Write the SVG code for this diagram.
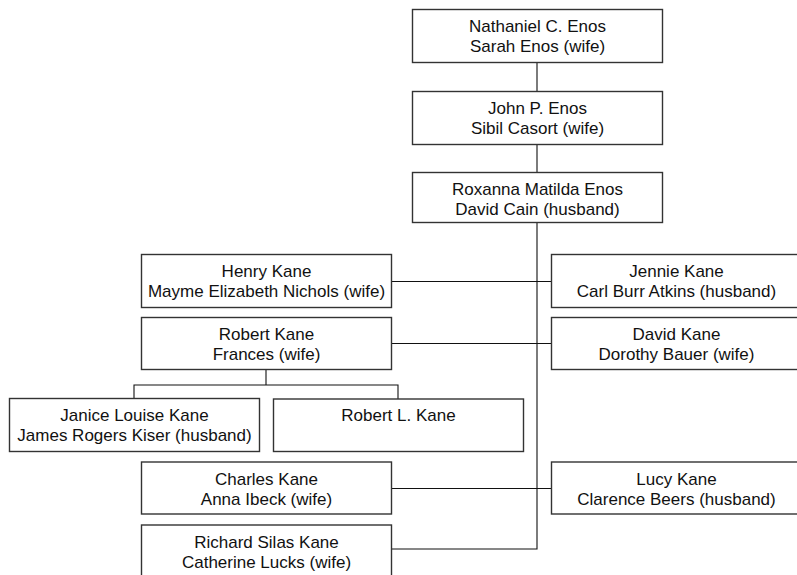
<svg xmlns="http://www.w3.org/2000/svg" width="797" height="575" viewBox="0 0 797 575">
<style>
.box{fill:#fff;stroke:#333;stroke-width:1.4}
.t{font-family:"Liberation Sans",Arial,sans-serif;font-size:17px;fill:#111;text-anchor:middle}
.c{fill:none;stroke:#111;stroke-width:1.1}
</style>
<rect width="797" height="575" fill="#fff"/>
<g id="connectors">
<path class="c" d="M537 62.5V91.5M537 144.5V172.5M537 222V549H391.5"/>
<path class="c" d="M391.5 281.5H551.5M391.5 343.5H551.5M391.5 488.5H551.5"/>
<path class="c" d="M266 369.5V385M134 398V385H398V399"/>
</g>
<g id="n1"><rect class="box" x="412.5" y="9.5" width="250" height="53"/><text class="t" x="537.5" y="32">Nathaniel C. Enos</text><text class="t" x="537.5" y="52">Sarah Enos (wife)</text></g>
<g id="n2"><rect class="box" x="412.5" y="91.5" width="250" height="53"/><text class="t" x="537.5" y="114">John P. Enos</text><text class="t" x="537.5" y="134">Sibil Casort (wife)</text></g>
<g id="n3"><rect class="box" x="412.5" y="172.5" width="250" height="50"/><text class="t" x="537.5" y="195">Roxanna Matilda Enos</text><text class="t" x="537.5" y="215">David Cain (husband)</text></g>
<g id="henry"><rect class="box" x="141.5" y="254.5" width="250" height="53"/><text class="t" x="266.5" y="277">Henry Kane</text><text class="t" x="266.5" y="297">Mayme Elizabeth Nichols (wife)</text></g>
<g id="jennie"><rect class="box" x="551.5" y="254.5" width="250" height="53"/><text class="t" x="676.5" y="277">Jennie Kane</text><text class="t" x="676.5" y="297">Carl Burr Atkins (husband)</text></g>
<g id="robert"><rect class="box" x="141.5" y="317.5" width="250" height="52"/><text class="t" x="266.5" y="340">Robert Kane</text><text class="t" x="266.5" y="360">Frances (wife)</text></g>
<g id="david"><rect class="box" x="551.5" y="317.5" width="250" height="52"/><text class="t" x="676.5" y="340">David Kane</text><text class="t" x="676.5" y="360">Dorothy Bauer (wife)</text></g>
<g id="janice"><rect class="box" x="9.5" y="398.5" width="250" height="53"/><text class="t" x="134.5" y="421">Janice Louise Kane</text><text class="t" x="134.5" y="441">James Rogers Kiser (husband)</text></g>
<g id="robertl"><rect class="box" x="273.5" y="399" width="250" height="52.5"/><text class="t" x="398.5" y="421">Robert L. Kane</text></g>
<g id="charles"><rect class="box" x="141.5" y="462" width="250" height="52"/><text class="t" x="266.5" y="485">Charles Kane</text><text class="t" x="266.5" y="505">Anna Ibeck (wife)</text></g>
<g id="lucy"><rect class="box" x="551.5" y="462" width="250" height="52"/><text class="t" x="676.5" y="485">Lucy Kane</text><text class="t" x="676.5" y="505">Clarence Beers (husband)</text></g>
<g id="richard"><rect class="box" x="141.5" y="525" width="250" height="53"/><text class="t" x="266.5" y="548">Richard Silas Kane</text><text class="t" x="266.5" y="568">Catherine Lucks (wife)</text></g>
</svg>
